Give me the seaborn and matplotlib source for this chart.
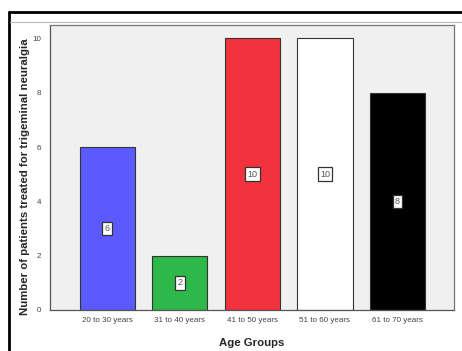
import matplotlib
matplotlib.use("Agg")
import matplotlib.pyplot as plt
import seaborn as sns
import pandas as pd
from matplotlib.lines import Line2D

age_groups = ["20 to 30 years", "31 to 40 years", "41 to 50 years", "51 to 60 years", "61 to 70 years"]
patients = [6, 2, 10, 10, 8]
bar_colors = ["#5a5aff", "#2db84a", "#f2323c", "#ffffff", "#000000"]
y_ticks = [0, 2, 4, 6, 8, 10]

df = pd.DataFrame({"group": age_groups, "count": patients})

sns.set_style("white")
plt.rcParams["font.family"] = ["Liberation Sans", "DejaVu Sans"]

fig = plt.figure(figsize=(4.62, 3.51), dpi=100)
ax = fig.add_axes([0.108, 0.117, 0.875, 0.812])
ax.set_facecolor("#f0f0f0")

sns.barplot(data=df, x="group", y="count", hue="group", palette=bar_colors,
            legend=False, width=0.76, edgecolor="#333333", linewidth=0.8,
            saturation=1, ax=ax)

for i, v in enumerate(patients):
    ax.text(i, v / 2, str(v), ha="center", va="center", fontsize=6.5, color="#555555",
            bbox=dict(boxstyle="square,pad=0.25", fc="white", ec="#333333", lw=0.9))

ax.set_ylim(0, 10.5)
ax.set_xlim(-0.79, 4.78)
ax.set_yticks(y_ticks)
ax.tick_params(axis="both", labelsize=5.8, length=3, width=0.8, colors="#444444",
               direction="out", pad=2)
ax.tick_params(axis="y", length=5, pad=1)
for s in ax.spines.values():
    s.set_color("#777777")
    s.set_linewidth(0.9)
ax.spines["left"].set_color("#555555")
ax.spines["bottom"].set_color("#555555")

ax.set_xlabel("Age Groups", fontsize=8.2, fontweight="bold", labelpad=10)
ax.set_ylabel("Number of patients treated for trigeminal neuralgia", fontsize=8.2,
              fontweight="bold")
ax.yaxis.set_label_coords(-0.05, 0.468)

# outer frame lines
fig.add_artist(Line2D([9 / 462, 1], [1 - 12 / 351, 1 - 12 / 351], color="black", lw=2,
                      transform=fig.transFigure))
fig.add_artist(Line2D([9 / 462, 9 / 462], [0, 1 - 12 / 351], color="black", lw=2,
                      transform=fig.transFigure))
fig.add_artist(Line2D([10 / 462, 1], [1 - 22 / 351, 1 - 22 / 351], color="#bbbbbb", lw=0.8,
                      transform=fig.transFigure))

fig.savefig("out.png", dpi=100)
